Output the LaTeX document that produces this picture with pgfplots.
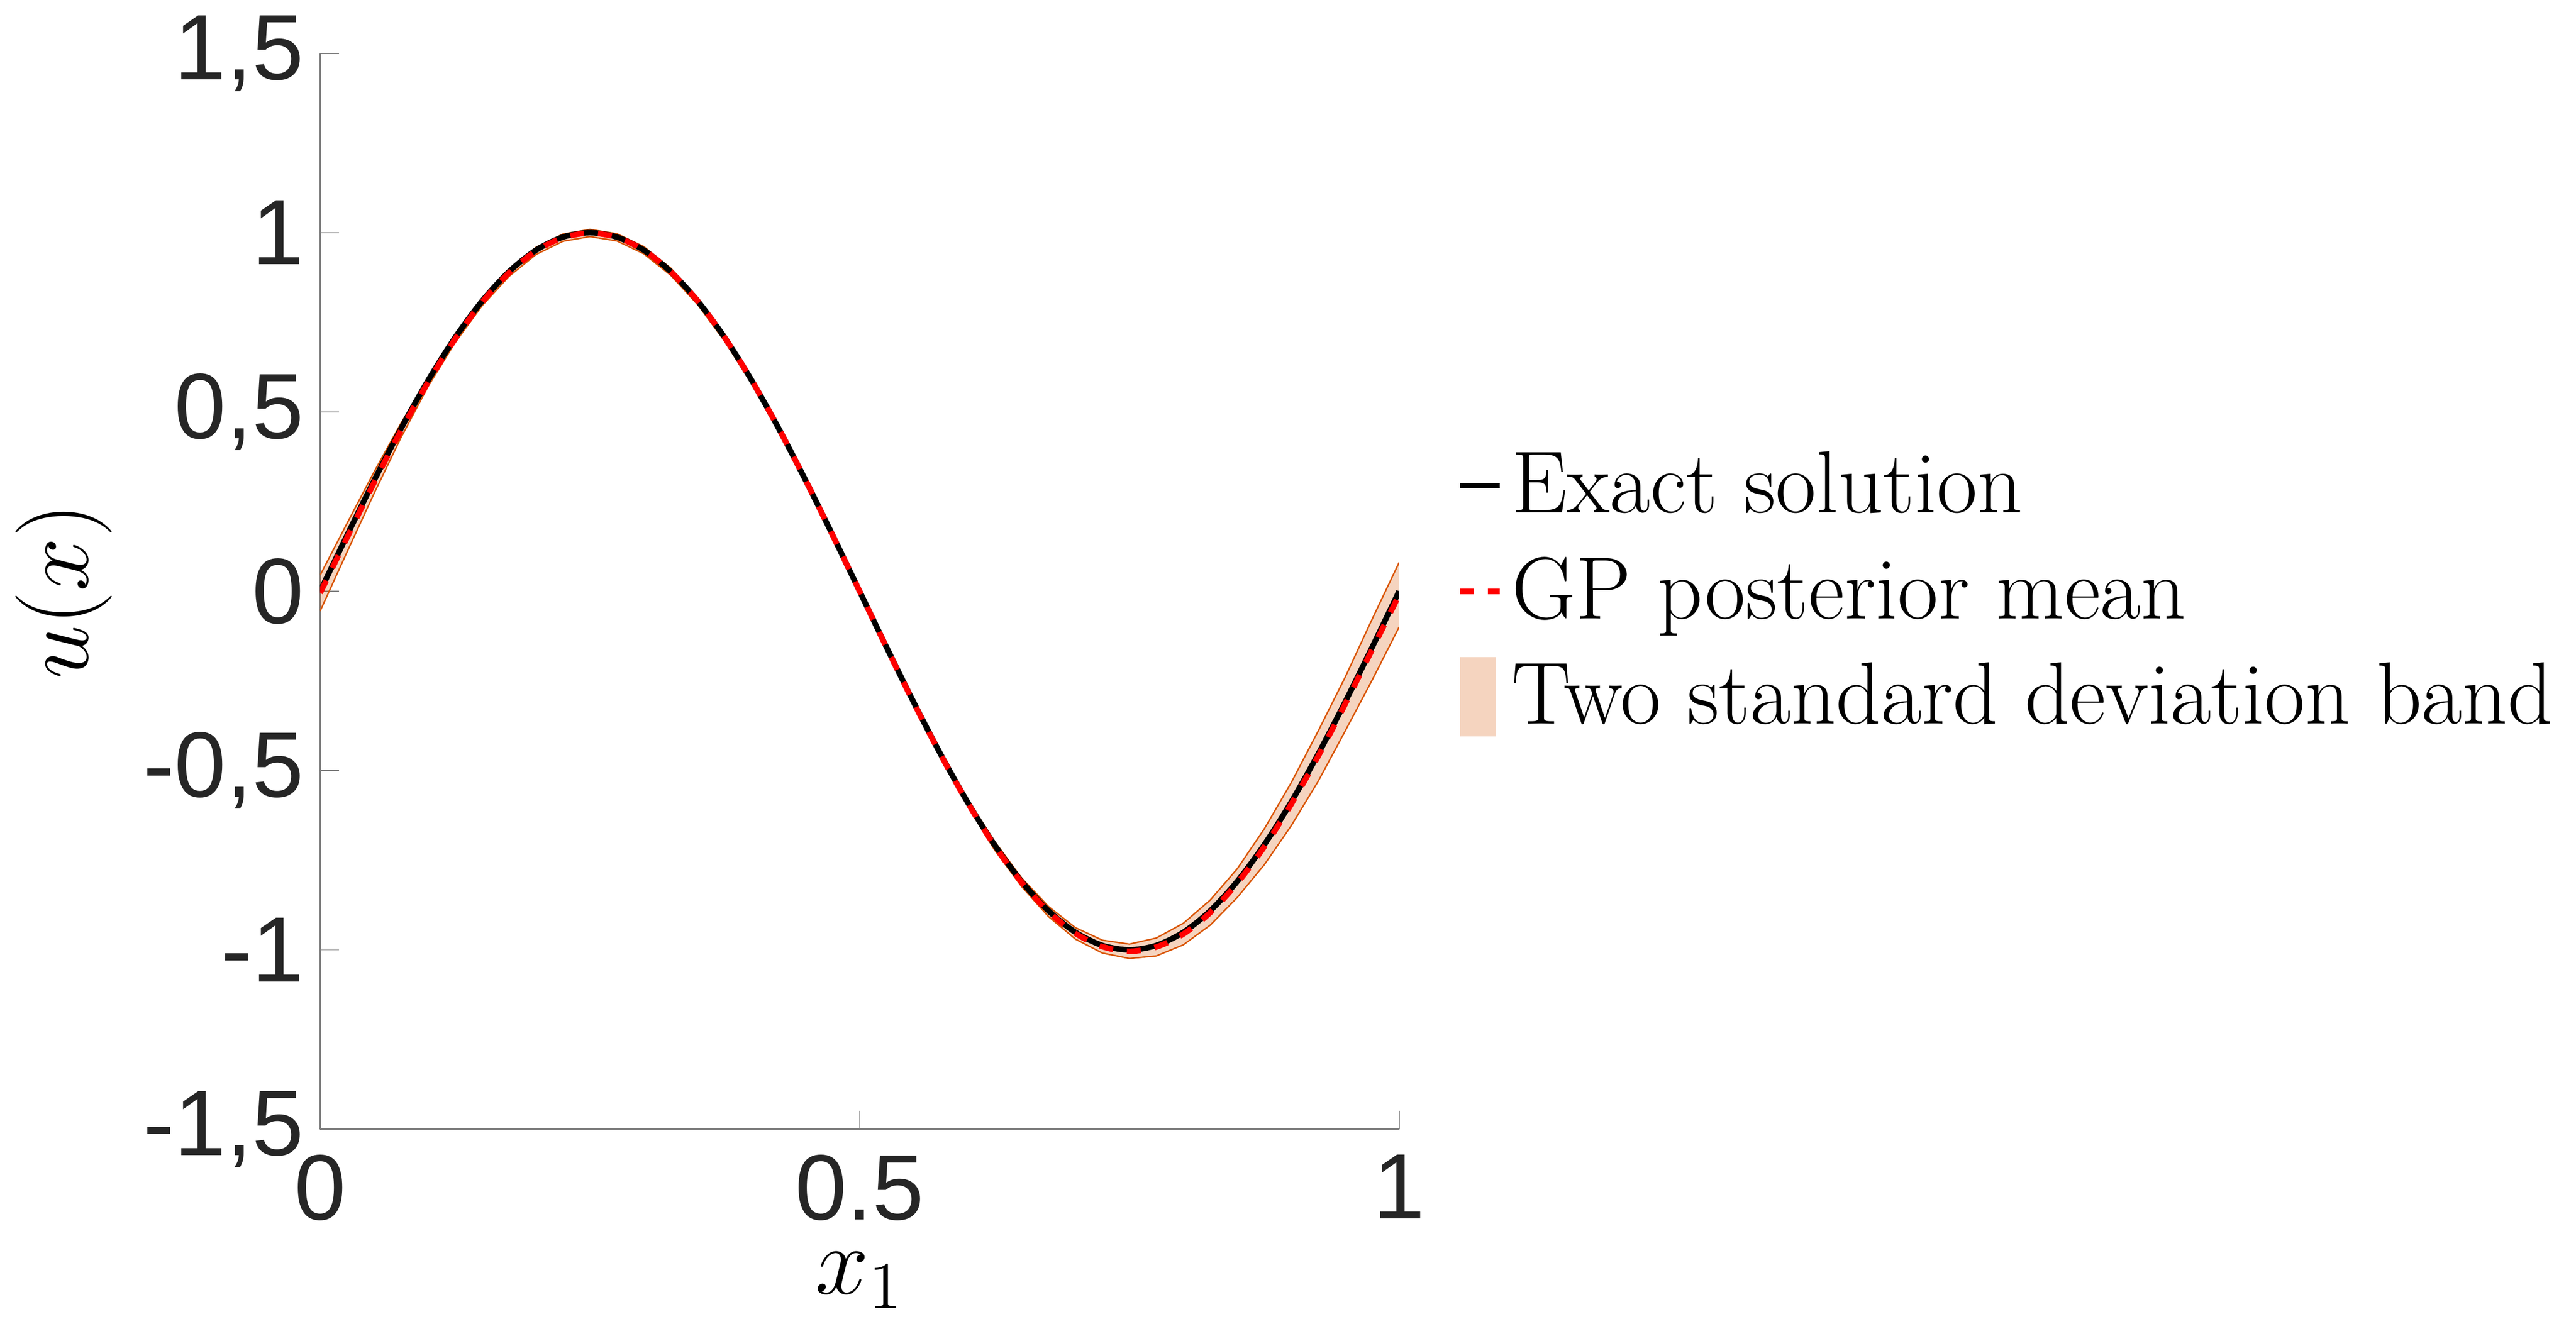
\documentclass[border=0pt]{standalone}
\usepackage{pgfplots}
\usepackage{pgfplotstable}
\pgfplotsset{compat=1.18}
\usepgfplotslibrary{fillbetween}
\usepackage{fontspec}
\setsansfont{Liberation Sans}
\definecolor{band}{rgb}{0.85,0.33,0.0}
\definecolor{axgray}{rgb}{0.5,0.5,0.5}
\begin{document}
\begin{tikzpicture}
\pgfplotstableread{
x u m w
0 0 -0.005 0.05
0.025 0.1564 0.150 0.04
0.05 0.3090 0.303 0.03
0.075 0.4540 0.449 0.02
0.1 0.5878 0.583 0.012
0.125 0.7071 0.703 0.01
0.15 0.8090 0.806 0.01
0.175 0.8910 0.888 0.01
0.2 0.9511 0.949 0.01
0.225 0.9877 0.986 0.01
0.25 1 0.999 0.01
0.275 0.9877 0.987 0.01
0.3 0.9511 0.951 0.01
0.325 0.8910 0.891 0.01
0.35 0.8090 0.809 0.01
0.375 0.7071 0.707 0.01
0.4 0.5878 0.588 0.01
0.425 0.4540 0.454 0.01
0.45 0.3090 0.309 0.01
0.475 0.1564 0.156 0.01
0.5 0 0 0.01
0.525 -0.1564 -0.157 0.01
0.55 -0.3090 -0.310 0.01
0.575 -0.4540 -0.455 0.01
0.6 -0.5878 -0.589 0.01
0.625 -0.7071 -0.709 0.012
0.65 -0.8090 -0.811 0.012
0.675 -0.8910 -0.893 0.014
0.7 -0.9511 -0.954 0.016
0.725 -0.9877 -0.991 0.018
0.75 -1 -1.004 0.02
0.775 -0.9877 -0.992 0.025
0.8 -0.9511 -0.956 0.03
0.825 -0.8910 -0.896 0.035
0.85 -0.8090 -0.814 0.04
0.875 -0.7071 -0.713 0.05
0.9 -0.5878 -0.594 0.06
0.925 -0.4540 -0.460 0.07
0.95 -0.3090 -0.315 0.075
0.975 -0.1564 -0.163 0.085
1 0 -0.010 0.09
}\data
\begin{axis}[
  width=8.16cm, height=8.14cm, scale only axis,
  xmin=0, xmax=1, ymin=-1.5, ymax=1.5,
  xtick={0,0.5,1}, ytick={-1.5,-1,-0.5,0,0.5,1,1.5},
  axis x line*=bottom, axis y line*=left,
  axis line style={axgray, line width=0.4pt},
  tick style={axgray}, tick align=inside, major tick length=4pt,
  tick label style={font=\sffamily\fontsize{20}{24}\selectfont, text=black!85},
  /pgf/number format/assume math mode=true,
  yticklabel style={/pgf/number format/.cd, fixed, use comma=false},
  every x tick label/.append style={yshift=-2pt},
  xlabel={$x_1$}, ylabel={$u(x)$},
  label style={font=\fontsize{22}{26}\selectfont},
  legend style={draw=none, fill=none, at={(1.04,0.5)}, anchor=west,
    font=\fontsize{19}{28}\selectfont, row sep=4pt},
  legend cell align=left,
  legend image post style={xscale=0.5},
]
\addplot[name path=lo, band, line width=0.3pt, forget plot] table[x=x, y expr=\thisrow{m}-\thisrow{w}] {\data};
\addplot[name path=hi, band, line width=0.3pt, forget plot] table[x=x, y expr=\thisrow{m}+\thisrow{w}] {\data};
\addplot[black, line width=1.2pt, smooth] table[x=x, y=u] {\data};
\addlegendentry{Exact solution}
\addplot[red, dashed, line width=1.2pt, smooth] table[x=x, y=m] {\data};
\addlegendentry{GP posterior mean}
\addplot[fill=band, fill opacity=0.25, draw=none, area legend,
  legend image code/.code={\fill[band] (0cm,-0.3cm) rectangle (0.55cm,0.3cm);}] fill between[of=lo and hi];
\addlegendentry{Two standard deviation band}
\end{axis}
\end{tikzpicture}
\end{document}
